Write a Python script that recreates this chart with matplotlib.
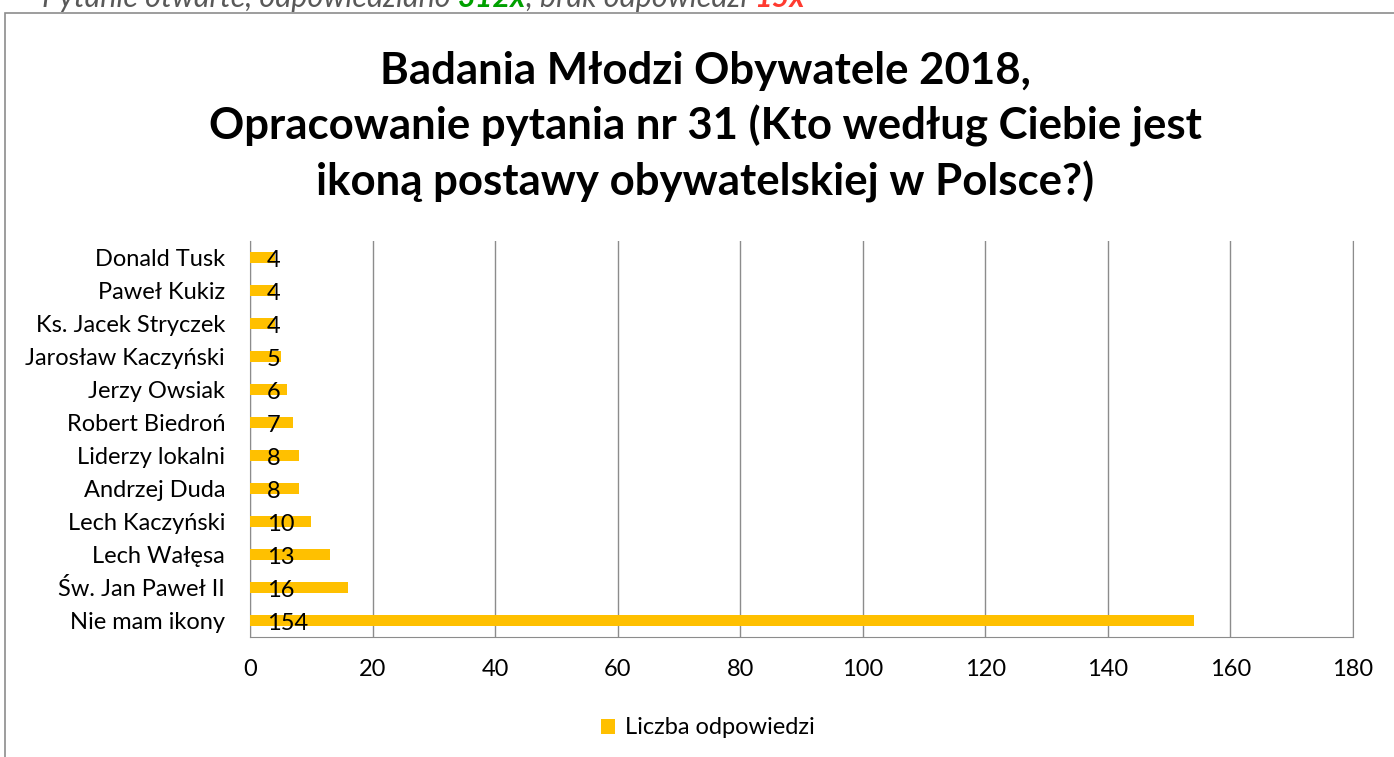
import matplotlib
matplotlib.use("Agg")
import matplotlib.pyplot as plt
from matplotlib.patches import Rectangle

categories = ["Donald Tusk", "Paweł Kukiz", "Ks. Jacek Stryczek", "Jarosław Kaczyński",
              "Jerzy Owsiak", "Robert Biedroń", "Liderzy lokalni", "Andrzej Duda",
              "Lech Kaczyński", "Lech Wałęsa", "Św. Jan Paweł II", "Nie mam ikony"]
values = [4, 4, 4, 5, 6, 7, 8, 8, 10, 13, 16, 154]
xticks = [0, 20, 40, 60, 80, 100, 120, 140, 160, 180]
series_name = "Liczba odpowiedzi"
title = ("Badania Młodzi Obywatele 2018,\n"
         "Opracowanie pytania nr 31 (Kto według Ciebie jest\n"
         "ikoną postawy obywatelskiej w Polsce?)")
caption_parts = ["Pytanie otwarte, odpowiedziano ", "312x", ", brak odpowiedzi ", "15x"]
caption_colors = ['#595959', '#00a000', '#595959', '#ff3b30']
caption_weights = ['normal', 'bold', 'normal', 'bold']

plt.rcParams['font.family'] = ['Lato', 'DejaVu Sans']

W, H = 1394, 757
fig = plt.figure(figsize=(W / 100, H / 100), dpi=100)

# outer chart frame
fig.patches.append(Rectangle((5 / W, -0.2), 1.2, 0.2 + (H - 13) / H, transform=fig.transFigure,
                             fill=False, edgecolor='#8c8c8c', linewidth=1.2))

ax = fig.add_axes([250 / W, 1 - 637 / H, (1353 - 250) / W, (637 - 241) / H])
ypos = list(range(len(categories)))
ax.barh(ypos, values, height=0.36, color='#FFC000', label=series_name, zorder=3)
ax.set_ylim(len(categories) - 0.5, -0.5)
ax.set_xlim(0, 180)
ax.set_xticks(xticks)
ax.set_yticks(ypos)
ax.set_yticklabels(categories)
ax.tick_params(axis='both', length=0, labelsize=17)
ax.tick_params(axis='x', pad=16)
ax.tick_params(axis='y', pad=18)
ax.grid(axis='x', color='#8c8c8c', linewidth=1, zorder=0)
for s in ['left', 'right', 'bottom']:
    ax.spines[s].set_color('#8c8c8c')
ax.spines['top'].set_visible(False)

for y, v in zip(ypos, values):
    ax.annotate(str(v), xy=(0, y), xytext=(12, -2.5), textcoords='offset points',
                ha='left', va='center', fontsize=17, color='black', zorder=4)

fig.text(705 / W, 1 - 127 / H, title, ha='center', va='center', fontsize=31.5,
         fontweight='bold', linespacing=1.4)

fig.legend(loc='center', bbox_to_anchor=(708 / W, 1 - 728 / H), frameon=False,
           fontsize=17, handlelength=0.6, handleheight=0.6, handletextpad=0.4)

# cut-off caption on top
fig.canvas.draw()
renderer = fig.canvas.get_renderer()
cap_y = 1 - 7 / H
x = 42
for txt, col, wt in zip(caption_parts, caption_colors, caption_weights):
    t = fig.text(x / W, cap_y, txt, fontsize=22, style='italic', color=col,
                 fontweight=wt, va='baseline', ha='left')
    bb = t.get_window_extent(renderer=renderer)
    x += bb.width

fig.savefig("out.png", dpi=100)
